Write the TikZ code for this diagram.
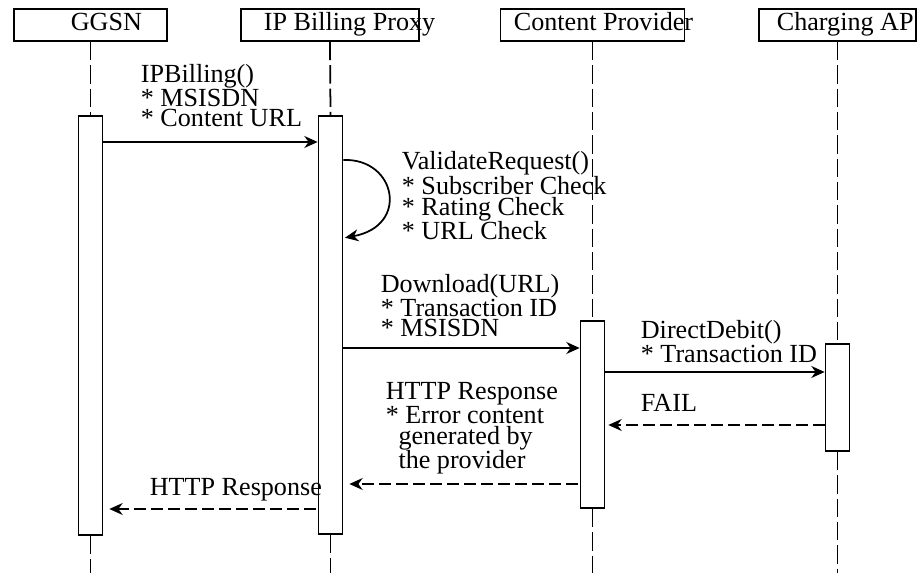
\documentclass[tikz,border=0pt]{standalone}
\usepackage{fontspec}
\setmainfont{Liberation Serif}
\usetikzlibrary{arrows.meta}

\begin{document}
\begin{tikzpicture}[x=0.03cm, y=-0.03cm, line width=1.5pt,
	font=\fontsize{22.3}{17.6}\selectfont,
	headbox/.style={draw, minimum height=0.96cm, inner sep=0},
	actbox/.style={draw, fill=white, minimum width=0.72cm, inner sep=0},
	lifeline/.style={dash pattern=on 0.55cm off 0.15cm},
	call/.style={-{Stealth[length=0.4cm, width=0.36cm]}},
	reply/.style={call, dash pattern=on 0.36cm off 0.15cm, shorten >=0.18cm, shorten <=0.05cm},
	lbl/.style={anchor=base west, align=left, inner sep=0}]
			%%%%% START %%%%%
			\useasboundingbox (0,0) rectangle (918,573);
			
			% heads
			\node[headbox, minimum width=4.59cm] (ggsn) at (90.5,25) {};
			\node[headbox, minimum width=5.34cm] (proxy) at (330,25) {};
			\node[headbox, minimum width=5.52cm] (cp) at (592.5,25) {};
			\node[headbox, minimum width=4.71cm] (ap) at (837.5,25) {};
			\node[lbl] (ggsnname) at (70,31) {GGSN};
			\node[lbl] (proxyname) at (263,31) {IP Billing Proxy};
			\node[lbl] (cpname) at (513,31) {Content Provider};
			\node[lbl] (apname) at (776,31) {Charging AP};
			
			% activations
			\node[actbox, minimum height=12.57cm] (ggsnact) at (90.5,325.5) {};
			\node[actbox, minimum height=12.54cm] (proxyact) at (330.5,325) {};
			\node[actbox, minimum height=5.61cm] (cpact) at (592.5,414.5) {};
			\node[actbox, minimum height=3.21cm] (apact) at (837.5,397.5) {};
			
			\coordinate (ggsnend) at (90.5,573);
			\coordinate (proxyend) at (330.5,573);
			\coordinate (cpend) at (592.5,573);
			\coordinate (apend) at (837.5,573);
			
			% lifelines
			\draw[lifeline] (ggsn.south) -- (ggsnact.north);
			\draw[lifeline] (ggsnact.south) -- (ggsnend);
			\draw[lifeline] (proxy.south) -- (proxyact.north);
			\draw[lifeline] (proxyact.south) -- (proxyend);
			\draw[lifeline] (cp.south) -- (cpact.north);
			\draw[lifeline] (cpact.south) -- (cpend);
			\draw[lifeline] (ap.south) -- (apact.north);
			\draw[lifeline] (apact.south) -- (apend);
			
			% message levels
			\coordinate (mbill) at (0,142);
			\coordinate (mvalid1) at (0,160);
			\coordinate (mvalid2) at (0,238);
			\coordinate (mdl) at (0,348);
			\coordinate (mdd) at (0,372);
			\coordinate (mfail) at (0,425);
			\coordinate (mresp) at (0,484);
			\coordinate (mresp2) at (0,509);
			
			\draw[call] (ggsnact.east |- mbill) -- (proxyact.west |- mbill);
			\draw[call, shorten >=0.05cm] (proxyact.east |- mvalid1) .. controls (396,158) and (410,226) .. (proxyact.east |- mvalid2);
			\draw[call] (proxyact.east |- mdl) -- (cpact.west |- mdl);
			\draw[call] (cpact.east |- mdd) -- (apact.west |- mdd);
			\draw[reply, shorten >=0.09cm, shorten <=0cm] (apact.west |- mfail) -- (cpact.east |- mfail);
			\draw[reply] (cpact.west |- mresp) -- (proxyact.east |- mresp);
			\draw[reply] (proxyact.west |- mresp2) -- (ggsnact.east |- mresp2);
			
			% labels (base = last line)
			\node[lbl] (billlbl) at (140,127) {IPBilling()\\* MSISDN\\* Content URL};
			\node[lbl] (validlbl) at (401,240) {ValidateRequest()\\* Subscriber Check\\* Rating Check\\* URL Check};
			\node[lbl] (dllbl) at (380,337) {Download(URL)\\* Transaction ID\\* MSISDN};
			\node[lbl] (ddlbl) at (640,363) {DirectDebit()\\* Transaction ID};
			\node[lbl] (faillbl) at (640,412) {FAIL};
			\node[lbl] (resplbl) at (385,469) {HTTP Response\\* Error content\\\hspace{0.38cm}generated by\\\hspace{0.38cm}the provider};
			\node[lbl] (resp2lbl) at (149,496) {HTTP Response};
			%%%%% END %%%%%
\end{tikzpicture}
\end{document}
